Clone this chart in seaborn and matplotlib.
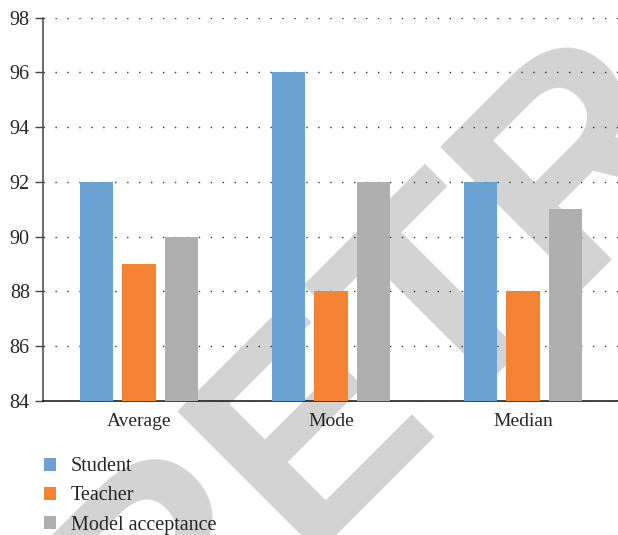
import matplotlib
matplotlib.use("Agg")
import matplotlib.pyplot as plt
import numpy as np
import pandas as pd
import seaborn as sns

# values
categories = ["Average", "Mode", "Median"]
series_names = ["Student", "Teacher", "Model acceptance"]
student = [92, 96, 92]
teacher = [89, 88, 88]
model_acceptance = [90, 92, 91]
y_ticks = [84, 86, 88, 90, 92, 94, 96, 98]

colors = ["#6ca1d4", "#f58331", "#afafaf"]

df = pd.DataFrame({"category": categories,
                   "Student": student,
                   "Teacher": teacher,
                   "Model acceptance": model_acceptance})
df = df.melt(id_vars="category", var_name="series", value_name="value")

sns.set_style("white")
plt.rcParams["font.family"] = ["Liberation Serif", "DejaVu Serif"]

fig = plt.figure(figsize=(6.18, 5.35), dpi=100)
ax = fig.add_axes([0.0696, 0.2505, 0.932, 0.7165])
ax.patch.set_alpha(0)

# "RETRACTED" watermark behind the axes
fig.text(0.245, -0.31, "RETRACTED", rotation=45, rotation_mode="anchor",
         ha="left", va="baseline", fontsize=210, fontweight="bold",
         family="Liberation Sans", color="#d3d3d3", zorder=-1)

sns.barplot(data=df, x="category", y="value", hue="series",
            order=categories, hue_order=series_names, palette=colors,
            saturation=1, width=0.664, gap=0.21, linewidth=0, ax=ax, zorder=3)

ax.set_ylim(84, 98)
ax.set_xlim(-0.5, 2.5)
ax.set_yticks(y_ticks)
ax.set_xlabel("")
ax.set_ylabel("")

ax.yaxis.grid(True, linestyle=(0, (1, 7.6)), linewidth=1.0, color="#333333", zorder=0)
ax.set_axisbelow(True)

for s in ["top", "right"]:
    ax.spines[s].set_visible(False)
ax.spines["left"].set_color("#444444")
ax.spines["left"].set_linewidth(1.1)
ax.spines["bottom"].set_color("#111111")
ax.spines["bottom"].set_linewidth(1.1)

ax.tick_params(axis="y", direction="out", length=5.5, width=1.0, color="#444444",
               labelsize=14.5, pad=4, left=True)
ax.tick_params(axis="x", length=0, labelsize=14, pad=9)

ax.legend(loc="upper left", bbox_to_anchor=(0.071, 0.145), bbox_transform=fig.transFigure,
          frameon=False, fontsize=14.5, handlelength=0.62, handleheight=0.62,
          handletextpad=0.72, labelspacing=0.5, borderpad=0, borderaxespad=0)

fig.savefig("out.png", dpi=100)
